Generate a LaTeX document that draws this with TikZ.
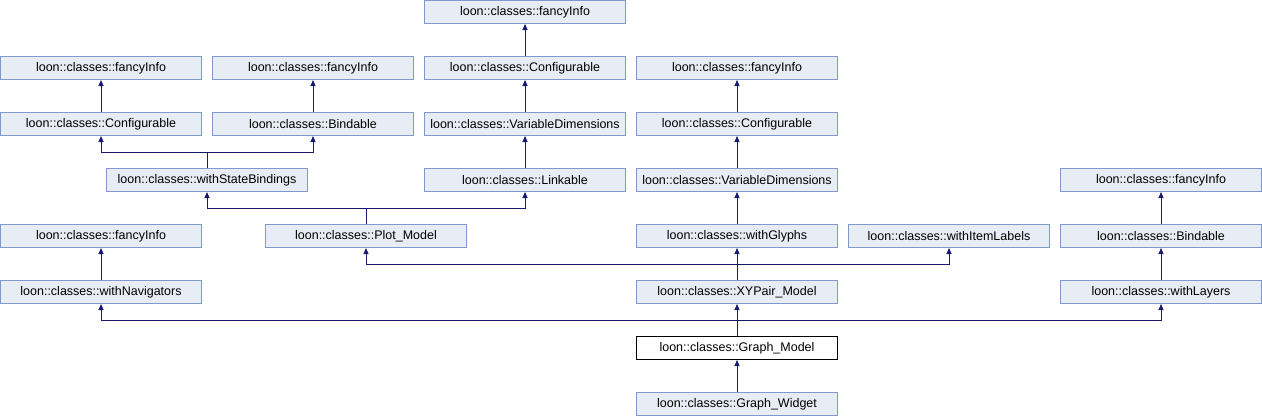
\documentclass[tikz,border=0pt]{standalone}
\usepackage{fontspec}
\setmainfont{Liberation Sans}
\usepackage{xcolor}
\usepackage{tikz}
\usetikzlibrary{arrows.meta}

\definecolor{boxfill}{RGB}{232,236,244}
\definecolor{boxline}{RGB}{128,152,204}
\definecolor{edgeblue}{RGB}{25,25,112}

\begin{document}
\begin{tikzpicture}[x=1pt, y=-1pt,
  cls/.style={draw=boxline, fill=boxfill, line width=1pt, minimum width=201pt,
              minimum height=23pt, inner sep=0pt, font=\fontsize{12.5}{14}\selectfont},
  cur/.style={cls, draw=black, fill=white},
  arr/.style={-{Triangle[length=6pt,width=5pt]}, edgeblue, line width=1pt}
]
  \useasboundingbox (0,0) rectangle (1262,416);

  % Top row
  \node[cls] (fiA) at (525,12) {loon::classes::fancyInfo};

  % Row 1
  \node[cls] (fiB) at (101,68) {loon::classes::fancyInfo};
  \node[cls] (fiC) at (313,68) {loon::classes::fancyInfo};
  \node[cls] (cfgA) at (525,68) {loon::classes::Configurable};
  \node[cls] (fiD) at (737,68) {loon::classes::fancyInfo};

  % Row 2
  \node[cls] (cfgB) at (101,124) {loon::classes::Configurable};
  \node[cls] (bindA) at (313,124) {loon::classes::Bindable};
  \node[cls] (vdimA) at (525,124) {loon::classes::VariableDimensions};
  \node[cls] (cfgC) at (737,124) {loon::classes::Configurable};

  % Row 3
  \node[cls] (wsb) at (207,180) {loon::classes::withStateBindings};
  \node[cls] (link) at (525,180) {loon::classes::Linkable};
  \node[cls] (vdimB) at (737,180) {loon::classes::VariableDimensions};
  \node[cls] (fiE) at (1161,180) {loon::classes::fancyInfo};

  % Row 4
  \node[cls] (fiF) at (101,236) {loon::classes::fancyInfo};
  \node[cls] (plot) at (366,236) {loon::classes::Plot\_Model};
  \node[cls] (glyph) at (737,236) {loon::classes::withGlyphs};
  \node[cls] (ilab) at (949,236) {loon::classes::withItemLabels};
  \node[cls] (bindB) at (1161,236) {loon::classes::Bindable};

  % Row 5
  \node[cls] (nav) at (101,292) {loon::classes::withNavigators};
  \node[cls] (xyp) at (737,292) {loon::classes::XYPair\_Model};
  \node[cls] (layer) at (1161,292) {loon::classes::withLayers};

  % Graph model and widget
  \node[cur] (gmod) at (737,348) {loon::classes::Graph\_Model};
  \node[cls] (gwid) at (737,404) {loon::classes::Graph\_Widget};

  % Inheritance edges
  \draw[arr] (cfgA) -- (fiA);
  \draw[arr] (vdimA) -- (cfgA);
  \draw[arr] (link) -- (vdimA);
  \draw[arr] (cfgB) -- (fiB);
  \draw[arr] (bindA) -- (fiC);
  \draw[arr] (wsb.north) -- ++(0,-16) -| (cfgB.south);
  \draw[arr] (wsb.north) -- ++(0,-16) -| (bindA.south);
  \draw[arr] (plot.north) -- ++(0,-16) -| (wsb.south);
  \draw[arr] (plot.north) -- ++(0,-16) -| (link.south);
  \draw[arr] (cfgC) -- (fiD);
  \draw[arr] (vdimB) -- (cfgC);
  \draw[arr] (glyph) -- (vdimB);
  \draw[arr] (bindB) -- (fiE);
  \draw[arr] (layer) -- (bindB);
  \draw[arr] (nav) -- (fiF);
  \draw[arr] (xyp.north) -- ++(0,-16) -| (plot.south);
  \draw[arr] (xyp) -- (glyph);
  \draw[arr] (xyp.north) -- ++(0,-16) -| (ilab.south);
  \draw[arr] (gmod.north) -- ++(0,-16) -| (nav.south);
  \draw[arr] (gmod) -- (xyp);
  \draw[arr] (gmod.north) -- ++(0,-16) -| (layer.south);
  \draw[arr] (gwid) -- (gmod);
\end{tikzpicture}
\end{document}
